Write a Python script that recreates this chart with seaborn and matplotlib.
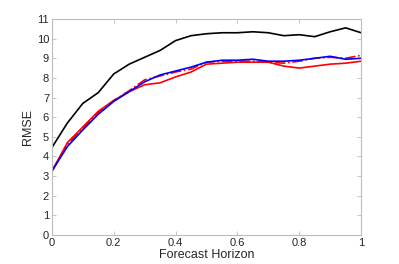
import numpy as np
import matplotlib
matplotlib.use("Agg")
import matplotlib.pyplot as plt
import seaborn as sns

# Forecast horizon grid and RMSE per model
horizon = [0.0, 0.05, 0.1, 0.15, 0.2, 0.25, 0.3, 0.35, 0.4, 0.45, 0.5,
           0.55, 0.6, 0.65, 0.7, 0.75, 0.8, 0.85, 0.9, 0.95, 1.0]
rmse_black = [4.45, 5.7, 6.7, 7.25, 8.2, 8.7, 9.05, 9.4, 9.9, 10.15, 10.25,
              10.3, 10.3, 10.35, 10.3, 10.15, 10.2, 10.1, 10.35, 10.55, 10.3]
rmse_blue = [3.25, 4.5, 5.35, 6.15, 6.8, 7.3, 7.8, 8.15, 8.35, 8.55, 8.8,
             8.9, 8.9, 8.95, 8.85, 8.85, 8.9, 9.0, 9.1, 8.95, 9.0]
rmse_red = [3.25, 4.7, 5.5, 6.3, 6.85, 7.3, 7.65, 7.75, 8.05, 8.3, 8.7,
            8.75, 8.8, 8.8, 8.8, 8.6, 8.5, 8.6, 8.7, 8.75, 8.85]
rmse_red_dash = [3.25, 4.6, 5.45, 6.25, 6.85, 7.35, 7.9, 8.1, 8.3, 8.45, 8.8,
                 8.85, 8.85, 8.85, 8.8, 8.75, 8.85, 9.0, 9.05, 9.0, 9.15]

sns.set_style("white")
plt.rcParams["font.family"] = ["Liberation Sans", "DejaVu Sans"]

fig = plt.figure(figsize=(3.99, 2.64), dpi=100)
ax = fig.add_axes([0.130, 0.110, 0.775, 0.818])

sns.lineplot(x=horizon, y=rmse_black, ax=ax, color="black", linewidth=1.2)
sns.lineplot(x=horizon, y=rmse_red, ax=ax, color="red", linewidth=1.2)
sns.lineplot(x=horizon, y=rmse_red_dash, ax=ax, color="red", linewidth=1.2,
             linestyle="-.")
sns.lineplot(x=horizon, y=rmse_blue, ax=ax, color="blue", linewidth=1.2)

ax.set_xlim(0, 1)
ax.set_ylim(0, 11)
ax.set_xticks(np.arange(0, 1.01, 0.2))
ax.set_xticklabels(["0", "0.2", "0.4", "0.6", "0.8", "1"])
ax.set_yticks(range(0, 12))
ax.set_xlabel("Forecast Horizon", fontsize=9, color="#262626", labelpad=1)
ax.set_ylabel("RMSE", fontsize=9, color="#262626", labelpad=2)

for s in ax.spines.values():
    s.set_visible(True)
    s.set_color("#bcbcbc")
    s.set_linewidth(0.8)
ax.tick_params(direction="in", length=3, width=0.6, color="#bcbcbc",
               labelsize=8, labelcolor="#262626", top=True, right=True,
               bottom=True, left=True, pad=2)

fig.savefig("out.png", dpi=100)
